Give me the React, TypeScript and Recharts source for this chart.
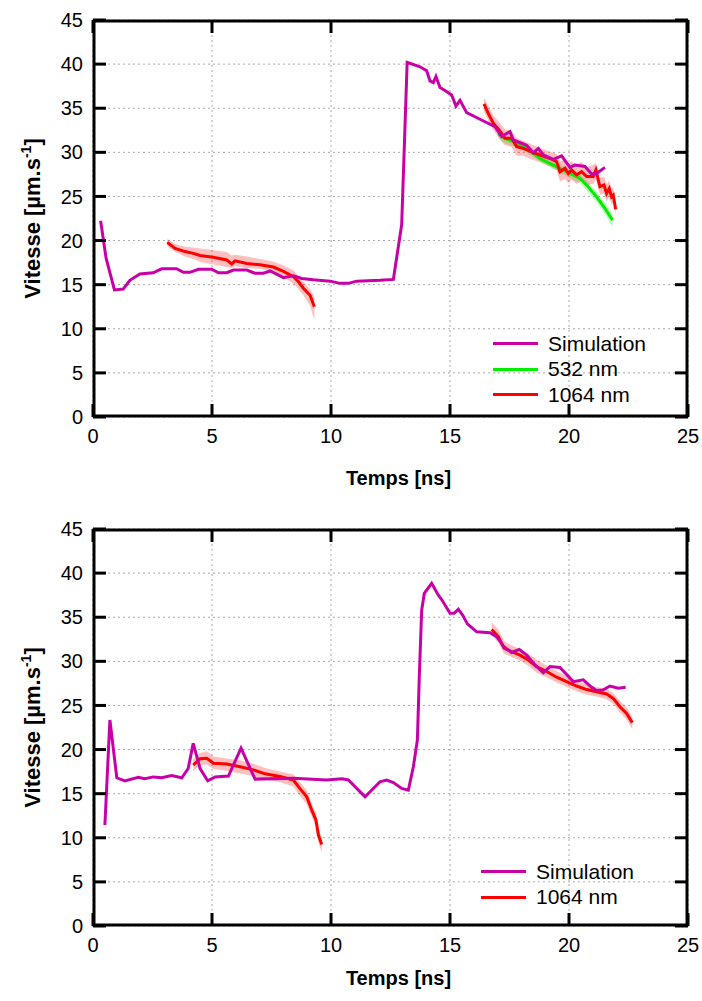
import React from 'react';
import {
  ComposedChart,
  Line,
  Area,
  XAxis,
  YAxis,
  CartesianGrid,
  ReferenceLine,
  ReferenceArea,
  Legend,
  Label,
} from 'recharts';

const FONT = '"Liberation Sans", Arial, sans-serif';
const MAGENTA = '#c800a8';
const RED = '#ff0000';
const GREEN = '#00ee00';

const X_TICKS = [0, 5, 10, 15, 20, 25];
const Y_TICKS = [0, 5, 10, 15, 20, 25, 30, 35, 40, 45];

// ---- top panel ----
const simTopX = [
  0.32, 0.55, 0.9, 1.27, 1.55, 1.97, 2.53, 2.88, 3.51, 3.8, 4.07, 4.43, 4.99, 5.27, 5.62, 5.9,
  6.46, 6.8, 7.16, 7.44, 8.0, 8.42, 8.77, 9.26, 9.96, 10.38, 10.73, 11.08, 12.06, 12.62, 12.97,
  13.2, 13.74, 14.02, 14.16, 14.3, 14.41, 14.58, 14.79, 15.07, 15.25, 15.42, 15.7, 16.26, 16.89,
  17.17, 17.52, 17.66, 18.22, 18.5, 18.71, 18.92, 19.34, 19.69, 20.04, 20.25, 20.67, 20.95,
  21.16, 21.51,
];
const simTopY = [
  22.25, 18.0, 14.4, 14.5, 15.5, 16.2, 16.35, 16.8, 16.8, 16.4, 16.4, 16.75, 16.75, 16.35, 16.35,
  16.65, 16.65, 16.3, 16.3, 16.55, 15.8, 16.0, 15.7, 15.55, 15.4, 15.15, 15.15, 15.4, 15.5, 15.6,
  21.8, 40.2, 39.7, 39.25, 38.1, 37.9, 38.6, 37.35, 37.0, 36.5, 35.25, 35.9, 34.5, 33.75, 32.9,
  31.8, 32.35, 31.4, 30.8, 29.95, 30.45, 29.7, 29.2, 29.6, 28.3, 28.55, 28.4, 27.55, 27.6, 28.3,
];

const greenTopX = [17.03, 17.24, 17.66, 18.22, 18.78, 19.34, 19.9, 20.46, 20.74, 21.16, 21.51, 21.83];
const greenTopY = [32.1, 31.7, 31.2, 30.45, 29.3, 28.55, 27.8, 27.05, 26.3, 24.95, 23.65, 22.3];
const greenTopLo = [31.6, 31.1, 30.7, 30.0, 28.9, 28.1, 27.3, 26.5, 25.7, 24.3, 23.0, 21.5];
const greenTopHi = [32.6, 32.2, 31.6, 30.9, 29.7, 29.0, 28.2, 27.5, 26.8, 25.5, 24.3, 23.0];

const redTopAX = [
  3.12, 3.45, 3.87, 4.21, 4.5, 5.05, 5.62, 5.83, 5.97, 6.46, 7.02, 7.58, 8.0, 8.42, 8.63, 8.84,
  9.12, 9.3,
];
const redTopAY = [
  19.8, 19.1, 18.75, 18.55, 18.3, 18.1, 17.8, 17.35, 17.7, 17.4, 17.25, 17.0, 16.5, 15.9, 15.35,
  14.6, 13.8, 12.5,
];
const redTopALo = [
  19.4, 18.7, 18.2, 17.9, 17.6, 17.3, 17.0, 16.9, 17.1, 16.9, 16.8, 16.5, 15.9, 15.1, 14.5, 13.8,
  12.6, 11.0,
];
const redTopAHi = [
  20.2, 19.6, 19.3, 19.2, 19.1, 18.9, 18.7, 18.3, 18.4, 18.2, 17.9, 17.6, 17.2, 16.6, 16.0, 15.3,
  14.5, 13.6,
];

const redTopBX = [
  16.43, 16.61, 16.82, 17.07, 17.31, 17.59, 17.8, 18.08, 18.43, 18.78, 19.2, 19.48, 19.62, 19.83,
  19.97, 20.11, 20.32, 20.53, 20.74, 21.02, 21.13, 21.3, 21.47, 21.58, 21.69, 21.79, 21.86, 21.96,
];
const redTopBY = [
  35.5, 34.4, 33.3, 32.5, 31.6, 31.6, 30.65, 30.45, 30.05, 29.7, 29.3, 28.95, 27.8, 28.2, 27.6,
  28.0, 27.45, 27.8, 27.25, 27.25, 28.0, 26.1, 26.3, 25.35, 25.9, 24.95, 25.15, 23.55,
];
const redTopBLo = [
  34.6, 33.6, 32.5, 31.6, 30.8, 30.6, 29.6, 29.6, 29.2, 28.9, 28.4, 28.0, 26.7, 27.0, 26.5, 26.9,
  26.4, 26.8, 26.3, 26.4, 27.0, 25.2, 25.3, 24.4, 25.0, 24.0, 24.3, 22.9,
];
const redTopBHi = [
  36.2, 35.3, 34.2, 33.4, 32.6, 32.4, 31.6, 31.3, 30.9, 30.5, 30.1, 29.8, 29.0, 29.2, 28.8, 29.0,
  28.6, 28.9, 28.3, 28.6, 28.8, 27.1, 27.3, 26.4, 26.8, 25.9, 26.0, 24.5,
];

// ---- bottom panel ----
const simBotX = [
  0.5, 0.71, 1.0, 1.34, 1.9, 2.18, 2.53, 2.89, 3.3, 3.73, 4.0, 4.21, 4.5, 4.82, 5.13, 5.69, 6.22,
  6.81, 8.42, 9.82, 10.45, 10.73, 11.43, 12.06, 12.34, 12.62, 12.97, 13.25, 13.46, 13.63, 13.71,
  13.81, 13.92, 14.23, 14.51, 14.65, 15.0, 15.17, 15.35, 15.53, 15.73, 16.12, 16.68, 16.96, 17.27,
  17.59, 17.91, 18.22, 18.57, 18.92, 19.2, 19.62, 20.18, 20.6, 20.95, 21.16, 21.42, 21.72, 22.07,
  22.38,
];
const simBotY = [
  11.45, 23.35, 16.8, 16.45, 16.85, 16.7, 16.9, 16.8, 17.05, 16.8, 17.85, 20.7, 17.85, 16.45, 16.9,
  17.0, 20.15, 16.65, 16.75, 16.55, 16.7, 16.55, 14.65, 16.35, 16.55, 16.25, 15.6, 15.4, 18.05,
  21.1, 28.25, 35.8, 37.7, 38.85, 37.5, 37.0, 35.45, 35.45, 35.9, 35.25, 34.25, 33.35, 33.25, 32.8,
  31.65, 31.0, 31.35, 30.7, 29.6, 28.7, 29.4, 29.3, 27.7, 27.9, 27.05, 26.7, 26.75, 27.2, 26.95,
  27.05,
];

const redBotAX = [
  4.21, 4.5, 4.78, 5.06, 5.62, 6.18, 6.74, 7.23, 7.86, 8.42, 8.63, 8.98, 9.19, 9.37, 9.47, 9.61,
];
const redBotAY = [
  18.25, 18.95, 19.0, 18.45, 18.35, 18.05, 17.7, 17.25, 16.95, 16.55, 15.8, 14.65, 13.15, 12.0,
  10.3, 9.25,
];
const redBotALo = [
  17.6, 18.2, 18.3, 17.8, 17.6, 17.3, 17.0, 16.6, 16.3, 15.8, 15.0, 13.8, 12.4, 11.2, 9.5, 8.3,
];
const redBotAHi = [
  18.9, 19.6, 19.8, 19.2, 19.0, 18.8, 18.4, 17.9, 17.5, 17.2, 16.5, 15.4, 13.9, 12.8, 11.1, 10.0,
];

const redBotBX = [
  16.75, 17.03, 17.27, 17.59, 17.94, 18.29, 18.64, 19.06, 19.48, 19.9, 20.32, 20.74, 21.16, 21.58,
  21.86, 22.14, 22.42, 22.66,
];
const redBotBY = [
  33.6, 32.8, 31.5, 31.1, 30.7, 30.15, 29.4, 28.85, 28.2, 27.7, 27.2, 26.8, 26.55, 26.3, 25.8,
  24.85, 24.1, 23.05,
];
const redBotBLo = [
  33.0, 32.1, 30.9, 30.5, 30.1, 29.5, 28.7, 28.2, 27.6, 27.1, 26.6, 26.2, 26.0, 25.7, 25.2, 24.2,
  23.4, 22.3,
];
const redBotBHi = [
  34.4, 33.6, 32.3, 31.8, 31.4, 30.9, 30.2, 29.5, 28.9, 28.3, 27.8, 27.4, 27.1, 26.9, 26.4, 25.5,
  24.8, 23.7,
];

const topLegend = [
  { name: 'Simulation', color: MAGENTA },
  { name: '532 nm', color: GREEN },
  { name: '1064 nm', color: RED },
];
const botLegend = [
  { name: 'Simulation', color: MAGENTA },
  { name: '1064 nm', color: RED },
];

const pts = (xs: number[], ys: number[]) => xs.map((x, i) => ({ x, y: ys[i] }));
const band = (xs: number[], lo: number[], hi: number[]) =>
  xs.map((x, i) => ({ x, band: [lo[i], hi[i]] }));

interface Series {
  key: string;
  data: { x: number; y: number }[];
  color: string;
}
interface Band {
  key: string;
  data: { x: number; band: number[] }[];
  color: string;
}

const TICK_LEN = 13;
const tickText = { fill: '#000', fontSize: 20, fontFamily: FONT };

// inward tick marks at both ends of a vertical reference line (bottom + top axes)
const VTickShape = (p: any) => {
  const top = Math.min(p.y1, p.y2);
  const bot = Math.max(p.y1, p.y2);
  return (
    <g>
      <line x1={p.x1} x2={p.x1} y1={top} y2={top + TICK_LEN} stroke="#000" strokeWidth={3} />
      <line x1={p.x1} x2={p.x1} y1={bot - TICK_LEN} y2={bot} stroke="#000" strokeWidth={3} />
    </g>
  );
};

// inward tick marks at both ends of a horizontal reference line (left + right axes)
const HTickShape = (p: any) => {
  const left = Math.min(p.x1, p.x2);
  const right = Math.max(p.x1, p.x2);
  return (
    <g>
      <line x1={left} x2={left + TICK_LEN} y1={p.y1} y2={p.y1} stroke="#000" strokeWidth={3} />
      <line x1={right - TICK_LEN} x2={right} y1={p.y1} y2={p.y1} stroke="#000" strokeWidth={3} />
    </g>
  );
};

const FrameShape = (p: any) => (
  <rect
    x={p.x + 1}
    y={p.y + 1}
    width={p.width - 2}
    height={p.height - 2}
    fill="none"
    stroke="#000"
    strokeWidth={3}
  />
);

const YTitle = ({ viewBox }: any) => {
  const cy = viewBox.y + viewBox.height / 2;
  return (
    <text
      x={40}
      y={cy}
      transform={`rotate(-90 40 ${cy})`}
      textAnchor="middle"
      fontFamily={FONT}
      fontWeight="bold"
      fontSize={22}
      fill="#000"
    >
      Vitesse [µm.s
      <tspan dy={-9} fontSize={14}>
        -1
      </tspan>
      <tspan dy={9}>]</tspan>
    </text>
  );
};

const makeXTitle = (offset: number) => ({ viewBox }: any) => (
  <text
    x={viewBox.x + viewBox.width / 2 + 8}
    y={viewBox.y + offset}
    textAnchor="middle"
    fontFamily={FONT}
    fontWeight="bold"
    fontSize={20}
    fill="#000"
  >
    Temps [ns]
  </text>
);

const LegendBox = ({ items }: { items: { name: string; color: string }[] }) => (
  <div style={{ fontFamily: FONT, fontSize: 21, color: '#000' }}>
    {items.map((it) => (
      <div key={it.name} style={{ display: 'flex', alignItems: 'center', height: 25.5 }}>
        <span
          style={{ display: 'inline-block', width: 45, height: 3, background: it.color, marginRight: 10 }}
        />
        <span>{it.name}</span>
      </div>
    ))}
  </div>
);

interface PanelProps {
  height: number;
  marginTop: number;
  marginBottom: number;
  titleOffset: number;
  bands: Band[];
  lines: Series[];
  legendItems: { name: string; color: string }[];
  legendLeft: number;
  legendTop: number;
}

const Panel: React.FC<PanelProps> = ({
  height,
  marginTop,
  marginBottom,
  titleOffset,
  bands,
  lines,
  legendItems,
  legendLeft,
  legendTop,
}) => (
  <ComposedChart
    width={702}
    height={height}
    margin={{ top: marginTop, right: 14, bottom: marginBottom, left: 33 }}
  >
    <CartesianGrid stroke="#aaa" strokeDasharray="2 3" />
    {bands.map((b) => (
      <Area
        key={b.key}
        data={b.data}
        dataKey="band"
        type="linear"
        stroke="none"
        fill={b.color}
        fillOpacity={0.25}
        isAnimationActive={false}
        legendType="none"
      />
    ))}
    {lines.map((s) => (
      <Line
        key={s.key}
        data={s.data}
        dataKey="y"
        type="linear"
        stroke={s.color}
        strokeWidth={3}
        dot={false}
        isAnimationActive={false}
        legendType="none"
      />
    ))}
    <XAxis
      type="number"
      dataKey="x"
      domain={[0, 25]}
      ticks={X_TICKS}
      height={40}
      axisLine={false}
      tickLine={false}
      tickSize={0}
      tickMargin={12}
      tick={tickText}
    >
      <Label content={makeXTitle(titleOffset)} />
    </XAxis>
    <YAxis
      type="number"
      domain={[0, 45]}
      ticks={Y_TICKS}
      width={60}
      axisLine={false}
      tickLine={false}
      tickSize={0}
      tickMargin={10}
      tick={tickText}
    >
      <Label content={YTitle} />
    </YAxis>
    {X_TICKS.map((t) => (
      <ReferenceLine key={`xt${t}`} x={t} ifOverflow="visible" shape={VTickShape} />
    ))}
    {Y_TICKS.map((t) => (
      <ReferenceLine key={`yt${t}`} y={t} ifOverflow="visible" shape={HTickShape} />
    ))}
    <ReferenceArea x1={0} x2={25} y1={0} y2={45} ifOverflow="visible" shape={FrameShape} />
    <Legend
      layout="vertical"
      align="center"
      verticalAlign="middle"
      wrapperStyle={{ left: legendLeft, top: legendTop, width: 200 }}
      content={() => <LegendBox items={legendItems} />}
    />
  </ComposedChart>
);

const App: React.FC = () => {
  const topBands: Band[] = [
    { key: 'g', data: band(greenTopX, greenTopLo, greenTopHi), color: GREEN },
    { key: 'ra', data: band(redTopAX, redTopALo, redTopAHi), color: RED },
    { key: 'rb', data: band(redTopBX, redTopBLo, redTopBHi), color: RED },
  ];
  const topLines: Series[] = [
    { key: 'g', data: pts(greenTopX, greenTopY), color: GREEN },
    { key: 'ra', data: pts(redTopAX, redTopAY), color: RED },
    { key: 'rb', data: pts(redTopBX, redTopBY), color: RED },
    { key: 'sim', data: pts(simTopX, simTopY), color: MAGENTA },
  ];
  const botBands: Band[] = [
    { key: 'ra', data: band(redBotAX, redBotALo, redBotAHi), color: RED },
    { key: 'rb', data: band(redBotBX, redBotBLo, redBotBHi), color: RED },
  ];
  const botLines: Series[] = [
    { key: 'ra', data: pts(redBotAX, redBotAY), color: RED },
    { key: 'rb', data: pts(redBotBX, redBotBY), color: RED },
    { key: 'sim', data: pts(simBotX, simBotY), color: MAGENTA },
  ];

  return (
    <div style={{ position: 'absolute', left: 0, top: 0, width: 702, height: 1001, background: '#fff' }}>
      <div style={{ position: 'absolute', left: 0, top: 0 }}>
        <Panel
          height={500}
          marginTop={20}
          marginBottom={43}
          titleOffset={68}
          bands={topBands}
          lines={topLines}
          legendItems={topLegend}
          legendLeft={493}
          legendTop={331}
        />
      </div>
      <div style={{ position: 'absolute', left: 0, top: 500 }}>
        <Panel
          height={501}
          marginTop={29}
          marginBottom={35}
          titleOffset={59}
          bands={botBands}
          lines={botLines}
          legendItems={botLegend}
          legendLeft={481}
          legendTop={359}
        />
      </div>
    </div>
  );
};

export default App;
